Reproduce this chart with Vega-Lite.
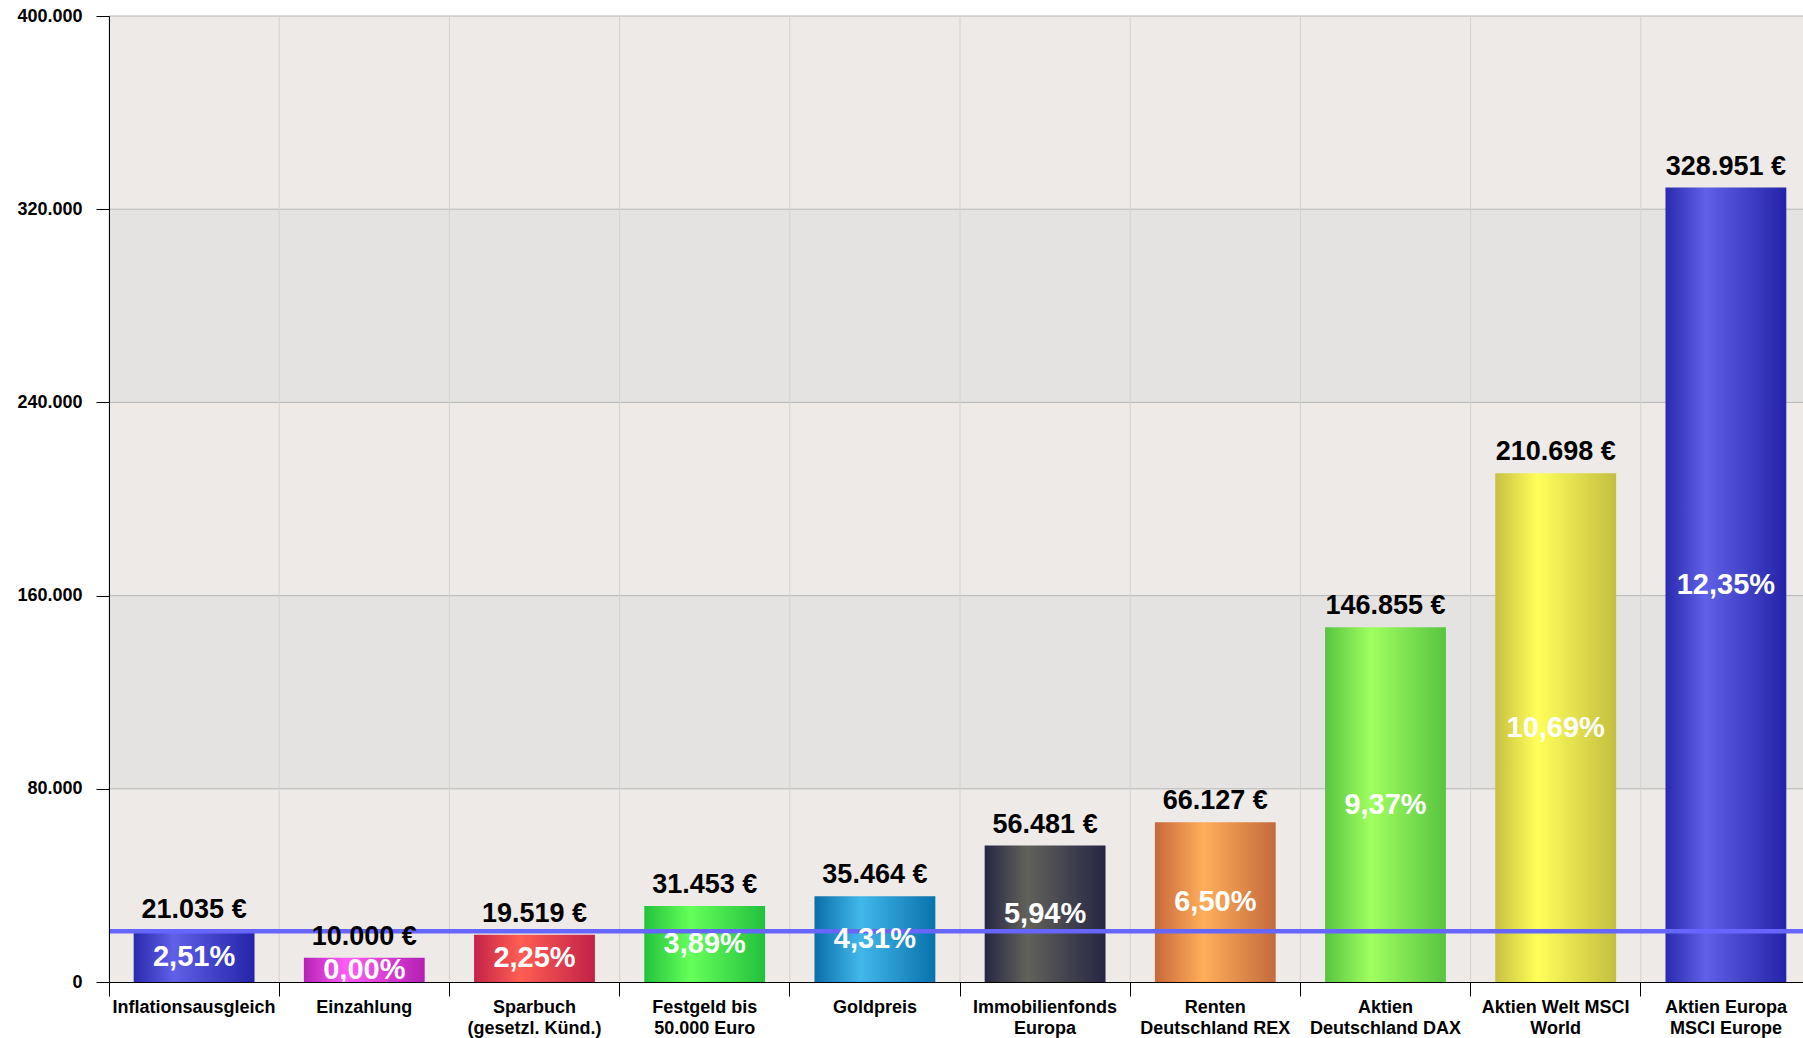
{
  "$schema": "https://vega.github.io/schema/vega-lite/v6.json",
  "width": 1694,
  "height": 966,
  "autosize": {"type": "none"},
  "padding": {"left": 109, "top": 16, "right": 0, "bottom": 56},
  "background": "white",
  "config": {
    "view": {"stroke": null},
    "locale": {"number": {"decimal": ",", "thousands": ".", "grouping": [3], "currency": ["", " €"]}},
    "font": "Liberation Sans"
  },
  "datasets": {
    "main": [
      {"cat": "Inflationsausgleich", "value": 21035, "pct": 0.0251},
      {"cat": "Einzahlung", "value": 10000, "pct": 0.0},
      {"cat": "Sparbuch\n(gesetzl. Künd.)", "value": 19519, "pct": 0.0225},
      {"cat": "Festgeld bis\n50.000 Euro", "value": 31453, "pct": 0.0389},
      {"cat": "Goldpreis", "value": 35464, "pct": 0.0431},
      {"cat": "Immobilienfonds\nEuropa", "value": 56481, "pct": 0.0594},
      {"cat": "Renten\nDeutschland REX", "value": 66127, "pct": 0.065},
      {"cat": "Aktien\nDeutschland DAX", "value": 146855, "pct": 0.0937},
      {"cat": "Aktien Welt MSCI\nWorld", "value": 210698, "pct": 0.1069},
      {"cat": "Aktien Europa\nMSCI Europe", "value": 328951, "pct": 0.1235}
    ],
    "bands": [
      {"lo": 0, "hi": 80000, "shade": "a"},
      {"lo": 80000, "hi": 160000, "shade": "b"},
      {"lo": 160000, "hi": 240000, "shade": "a"},
      {"lo": 240000, "hi": 320000, "shade": "b"},
      {"lo": 320000, "hi": 400000, "shade": "a"}
    ],
    "grid": [
      {"v": 80000}, {"v": 160000}, {"v": 240000}, {"v": 320000}, {"v": 400000}
    ]
  },
  "encoding": {
    "x": {
      "field": "cat", "type": "nominal", "sort": null,
      "scale": {
        "domain": ["Inflationsausgleich", "Einzahlung", "Sparbuch\n(gesetzl. Künd.)", "Festgeld bis\n50.000 Euro", "Goldpreis", "Immobilienfonds\nEuropa", "Renten\nDeutschland REX", "Aktien\nDeutschland DAX", "Aktien Welt MSCI\nWorld", "Aktien Europa\nMSCI Europe"],
        "range": [0, 1702], "paddingInner": 0, "paddingOuter": 0
      },
      "axis": {
        "title": null, "grid": false, "bandPosition": 0, "labelOffset": 0,
        "tickSize": 14, "tickColor": "black", "domainColor": "black",
        "labelFont": "Liberation Sans", "labelFontWeight": "bold", "labelFontSize": 18,
        "labelColor": "black", "labelAngle": 0, "labelExpr": "split(datum.label, '\\n')",
        "labelLineHeight": 21, "labelPadding": 2, "labelOverlap": false, "labelBound": false,
        "labelFlush": false, "zindex": 1
      }
    },
    "y": {
      "type": "quantitative",
      "scale": {"domain": [0, 400000], "nice": false, "zero": true},
      "axis": {
        "title": null, "grid": false, "values": [0, 80000, 160000, 240000, 320000, 400000],
        "format": ",.0f", "tickSize": 13, "tickColor": "black", "domainColor": "black",
        "labelFont": "Liberation Sans", "labelFontWeight": "bold", "labelFontSize": 18,
        "labelColor": "black", "labelPadding": 14, "zindex": 1
      }
    }
  },
  "layer": [
    {
      "data": {"name": "bands"},
      "mark": {"type": "rect"},
      "encoding": {
        "x": null,
        "y": {"field": "lo", "type": "quantitative"},
        "y2": {"field": "hi"},
        "color": {"field": "shade", "type": "nominal", "scale": {"range": ["#EEEAE7", "#E4E3E2"]}, "legend": null}
      }
    },
    {
      "data": {"name": "grid"},
      "mark": {"type": "rule", "color": "#B6B6B6", "strokeWidth": 1},
      "encoding": {"x": null, "y": {"field": "v", "type": "quantitative"}}
    },
    {
      "data": {"name": "main"},
      "mark": {"type": "rule", "color": "#D2D2D2", "strokeWidth": 1},
      "encoding": {"x": {"field": "cat", "type": "nominal", "bandPosition": 0}, "y": null}
    },
    {
      "data": {"name": "main"},
      "transform": [{"filter": {"field": "cat", "oneOf": ["Inflationsausgleich", "Aktien Europa\nMSCI Europe"]}}],
      "mark": {"type": "bar", "width": {"band": 0.71}, "color": {"gradient": "linear", "x1": 0, "x2": 1, "y1": 0, "y2": 0, "stops": [{"offset": 0, "color": "#2A2AAE"}, {"offset": 0.33, "color": "#6060E8"}, {"offset": 0.6, "color": "#4848CE"}, {"offset": 1, "color": "#2424A8"}]}},
      "encoding": {"y": {"field": "value", "type": "quantitative"}}
    },
    {
      "data": {"name": "main"},
      "transform": [{"filter": {"field": "cat", "equal": "Einzahlung"}}],
      "mark": {"type": "bar", "width": {"band": 0.71}, "color": {"gradient": "linear", "x1": 0, "x2": 1, "y1": 0, "y2": 0, "stops": [{"offset": 0, "color": "#B622B6"}, {"offset": 0.35, "color": "#FF5CF6"}, {"offset": 1, "color": "#B420B4"}]}},
      "encoding": {"y": {"field": "value", "type": "quantitative"}}
    },
    {
      "data": {"name": "main"},
      "transform": [{"filter": {"field": "cat", "equal": "Sparbuch\n(gesetzl. Künd.)"}}],
      "mark": {"type": "bar", "width": {"band": 0.71}, "color": {"gradient": "linear", "x1": 0, "x2": 1, "y1": 0, "y2": 0, "stops": [{"offset": 0, "color": "#C42248"}, {"offset": 0.38, "color": "#FF5E52"}, {"offset": 1, "color": "#C22248"}]}},
      "encoding": {"y": {"field": "value", "type": "quantitative"}}
    },
    {
      "data": {"name": "main"},
      "transform": [{"filter": {"field": "cat", "equal": "Festgeld bis\n50.000 Euro"}}],
      "mark": {"type": "bar", "width": {"band": 0.71}, "color": {"gradient": "linear", "x1": 0, "x2": 1, "y1": 0, "y2": 0, "stops": [{"offset": 0, "color": "#22C23C"}, {"offset": 0.38, "color": "#66FF5A"}, {"offset": 1, "color": "#22C03E"}]}},
      "encoding": {"y": {"field": "value", "type": "quantitative"}}
    },
    {
      "data": {"name": "main"},
      "transform": [{"filter": {"field": "cat", "equal": "Goldpreis"}}],
      "mark": {"type": "bar", "width": {"band": 0.71}, "color": {"gradient": "linear", "x1": 0, "x2": 1, "y1": 0, "y2": 0, "stops": [{"offset": 0, "color": "#0A6EA8"}, {"offset": 0.38, "color": "#42B8EA"}, {"offset": 1, "color": "#0872AC"}]}},
      "encoding": {"y": {"field": "value", "type": "quantitative"}}
    },
    {
      "data": {"name": "main"},
      "transform": [{"filter": {"field": "cat", "equal": "Immobilienfonds\nEuropa"}}],
      "mark": {"type": "bar", "width": {"band": 0.71}, "color": {"gradient": "linear", "x1": 0, "x2": 1, "y1": 0, "y2": 0, "stops": [{"offset": 0, "color": "#262644"}, {"offset": 0.35, "color": "#62625A"}, {"offset": 1, "color": "#262644"}]}},
      "encoding": {"y": {"field": "value", "type": "quantitative"}}
    },
    {
      "data": {"name": "main"},
      "transform": [{"filter": {"field": "cat", "equal": "Renten\nDeutschland REX"}}],
      "mark": {"type": "bar", "width": {"band": 0.71}, "color": {"gradient": "linear", "x1": 0, "x2": 1, "y1": 0, "y2": 0, "stops": [{"offset": 0, "color": "#C8683A"}, {"offset": 0.4, "color": "#FFAE5A"}, {"offset": 1, "color": "#C46A3C"}]}},
      "encoding": {"y": {"field": "value", "type": "quantitative"}}
    },
    {
      "data": {"name": "main"},
      "transform": [{"filter": {"field": "cat", "equal": "Aktien\nDeutschland DAX"}}],
      "mark": {"type": "bar", "width": {"band": 0.71}, "color": {"gradient": "linear", "x1": 0, "x2": 1, "y1": 0, "y2": 0, "stops": [{"offset": 0, "color": "#58C440"}, {"offset": 0.38, "color": "#A0FF60"}, {"offset": 1, "color": "#58C440"}]}},
      "encoding": {"y": {"field": "value", "type": "quantitative"}}
    },
    {
      "data": {"name": "main"},
      "transform": [{"filter": {"field": "cat", "equal": "Aktien Welt MSCI\nWorld"}}],
      "mark": {"type": "bar", "width": {"band": 0.71}, "color": {"gradient": "linear", "x1": 0, "x2": 1, "y1": 0, "y2": 0, "stops": [{"offset": 0, "color": "#C8C040"}, {"offset": 0.35, "color": "#FFFF5A"}, {"offset": 1, "color": "#C4BE40"}]}},
      "encoding": {"y": {"field": "value", "type": "quantitative"}}
    },
    {
      "data": {"name": "main"},
      "transform": [{"filter": {"field": "cat", "equal": "Inflationsausgleich"}}],
      "mark": {"type": "rule", "color": "#6666FF", "strokeWidth": 4.5},
      "encoding": {"x": null, "y": {"field": "value", "type": "quantitative"}}
    },
    {
      "data": {"name": "main"},
      "mark": {"type": "text", "font": "Liberation Sans", "fontWeight": "bold", "fontSize": 27, "color": "black", "baseline": "alphabetic", "dy": -13},
      "encoding": {
        "y": {"field": "value", "type": "quantitative"},
        "text": {"field": "value", "type": "quantitative", "format": "$,.0f"}
      }
    },
    {
      "data": {"name": "main"},
      "transform": [{"calculate": "datum.value / 2", "as": "mid"}],
      "mark": {"type": "text", "font": "Liberation Sans", "fontWeight": "bold", "fontSize": 29, "color": "white", "baseline": "middle", "clip": true},
      "encoding": {
        "y": {"field": "mid", "type": "quantitative"},
        "text": {"field": "pct", "type": "quantitative", "format": ".2%"}
      }
    }
  ]
}
